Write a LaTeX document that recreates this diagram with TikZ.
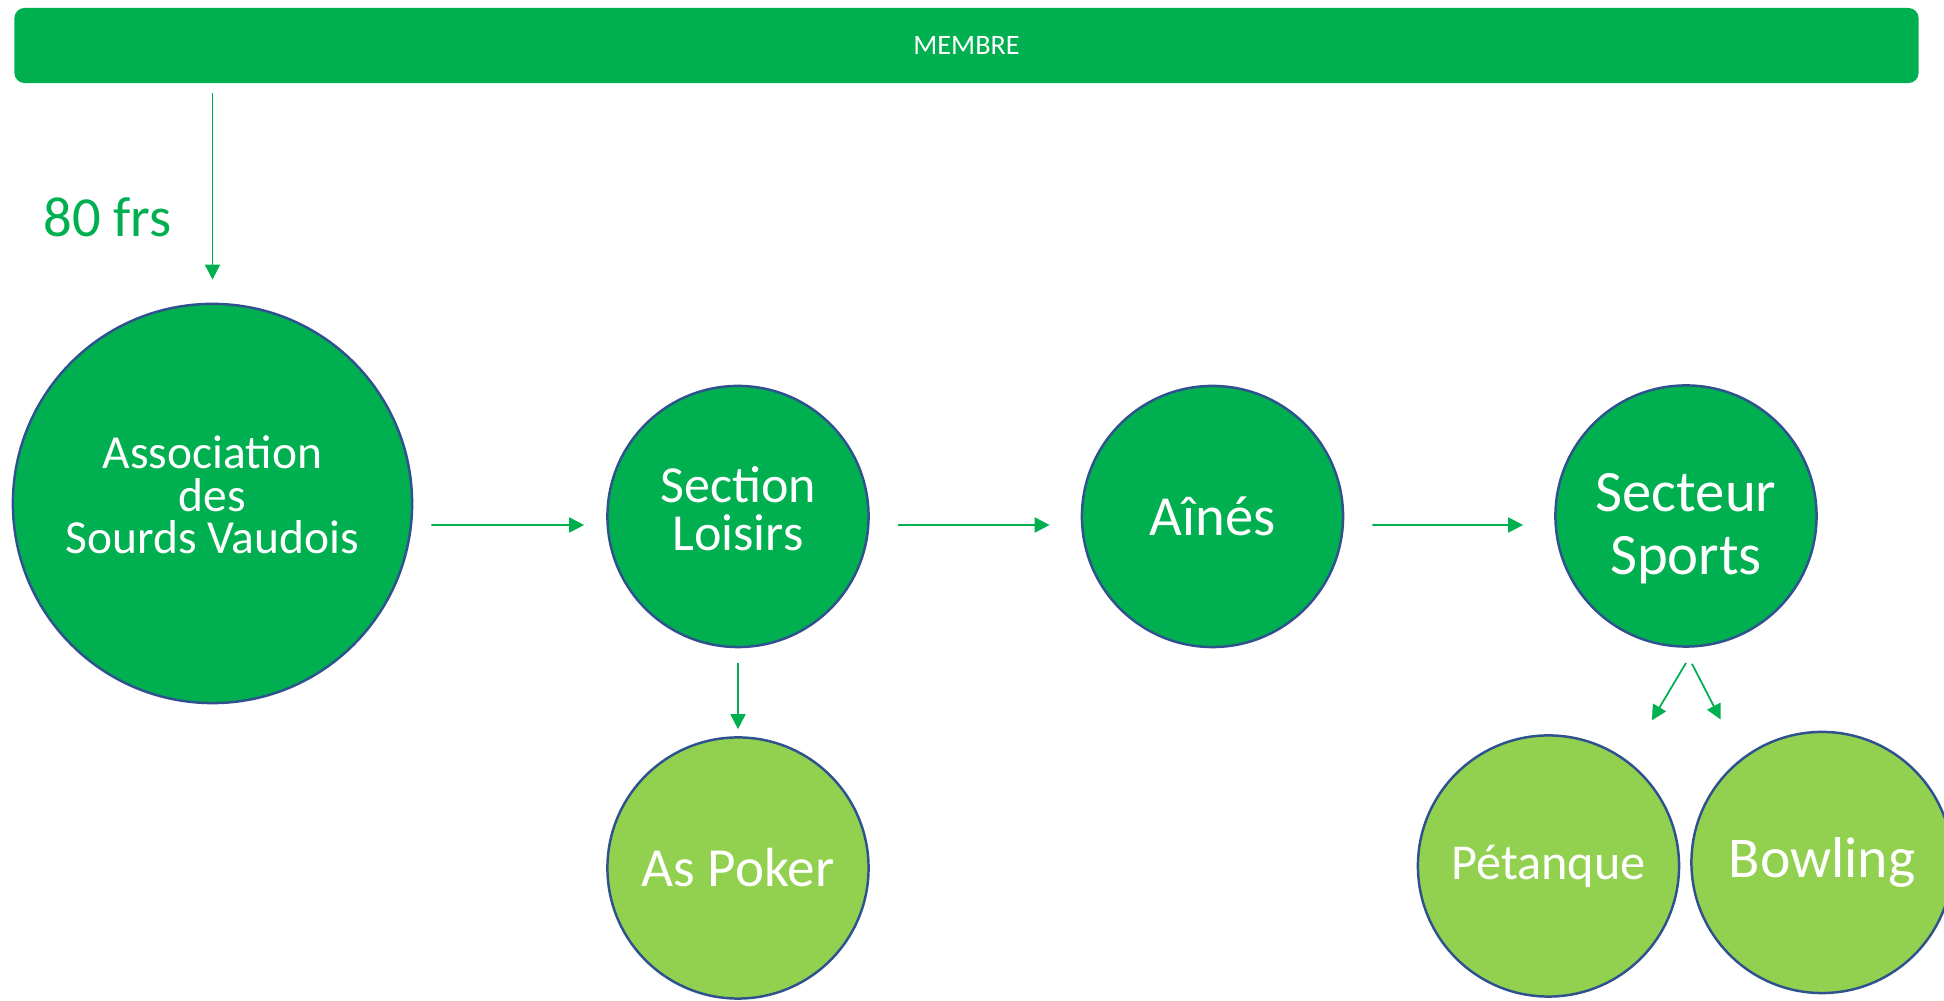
\documentclass[tikz,border=0pt]{standalone}
\usepackage{fontspec}
\setmainfont{Carlito}
\usepackage{xcolor}
\usetikzlibrary{arrows.meta}

\definecolor{vert}{HTML}{00B050}
\definecolor{vertclair}{HTML}{92D050}
\definecolor{bord}{HTML}{2F528F}

\tikzset{
	rond/.style={circle,draw=bord,line width=0.7pt,fill=vert,text=white,align=center,minimum size=2.61cm,inner sep=0pt},
	rondclair/.style={rond,fill=vertclair},
	fleche/.style={draw=vert,line width=0.5pt,-{Triangle[length=0.15cm,width=0.15cm]}},
}

\begin{document}
\begin{tikzpicture}[x=0.01cm,y=-0.01cm]
	\fill[white] (0,0) rectangle (1944,1001);
	\useasboundingbox (0,0) rectangle (1944,1001);
	% bandeau du haut
	\node (membre) at (966.5,45.5) [fill=vert,rounded corners=0.1cm,minimum width=19.03cm,minimum height=0.75cm,text=white] {\fontsize{8}{9.6}\selectfont MEMBRE};
	\node (prix) [anchor=base west,text=vert,font=\fontsize{16.1}{20}\selectfont] at (31,237) {80 frs};
	% cercles
	\node (asv) [rond,minimum size=3.99cm,font=\fontsize{13.5}{12}\selectfont] at (212.5,503.5) {Association\\des\\Sourds Vaudois\rule[-5pt]{0pt}{5pt}};
	\node (loisirs) [rond,font=\fontsize{14.8}{13.7}\selectfont] at (738,516.5) {Section\\Loisirs\rule[-4.5pt]{0pt}{4.5pt}};
	\node (aines) [rond,font=\fontsize{16.1}{19.3}\selectfont] at (1212.5,516.5) {Aînés};
	\node (sports) [rond,font=\fontsize{16.7}{18}\selectfont] at (1686,516) {\rule{0pt}{18pt}Secteur\\Sports};
	\node (poker) [rondclair,font=\fontsize{15.7}{18.8}\selectfont] at (738,868) {As Poker};
	\node (petanque) [rondclair,font=\fontsize{14.3}{17.2}\selectfont] at (1548.5,866) {Pétanque};
	\node (bowling) [rondclair,font=\fontsize{16.4}{19.7}\selectfont] at (1822,862.5) {Bowling};
	% fleches
	\draw[fleche,shorten <=0.09cm,shorten >=0.23cm] (asv.north |- membre.south) -- (asv.north);
	\draw[fleche,shorten <=0.18cm,shorten >=0.22cm] ([yshift=-0.215cm]asv.east) -- ([yshift=-0.085cm]loisirs.west);
	\draw[fleche,shorten <=0.28cm,shorten >=0.31cm] ([yshift=-0.085cm]loisirs.east) -- ([yshift=-0.085cm]aines.west);
	\draw[fleche,shorten <=0.28cm,shorten >=0.31cm] ([yshift=-0.085cm]aines.east) -- ([yshift=-0.09cm]sports.west);
	\draw[fleche,shorten <=0.15cm,shorten >=0.07cm] (loisirs.south) -- (poker.north);
	\draw[fleche,shorten <=0.18cm,shorten >=0.47cm] (sports.-86) -- (petanque.53);
	\draw[fleche,shorten <=0.18cm,shorten >=0.44cm] (sports.-91) -- (bowling.128);
\end{tikzpicture}
\end{document}
